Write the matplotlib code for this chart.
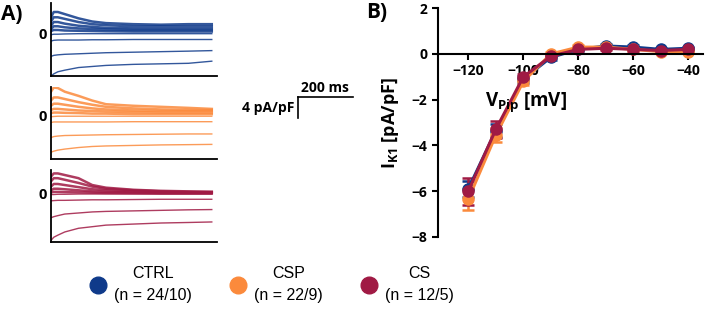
import numpy as np
import matplotlib.pyplot as plt
from matplotlib.lines import Line2D

# colores de cada grupo
c_ctrl = '#0f3a8a'
c_csp = '#fb8a3c'
c_cs = '#a01a44'

# ---------------- panel A: registros representativos ----------------
t_ms = [0, 10, 25, 50, 100, 150, 200, 300, 400, 500, 585]
# una fila por pulso (-120 ... -40 mV), valores en pA/pF
ctrl_traces = [
    [-8.1, -7.7, -7.3, -7.0, -6.5, -6.3, -6.1, -5.9, -5.8, -5.7, -5.3],
    [-4.4, -4.2, -4.1, -4.0, -3.9, -3.8, -3.7, -3.6, -3.5, -3.4, -3.3],
    [-1.5, -1.35, -1.3, -1.3, -1.3, -1.25, -1.25, -1.2, -1.2, -1.2, -1.2],
    [-0.3, -0.2, -0.2, -0.15, -0.1, -0.1, -0.1, -0.1, -0.1, -0.1, -0.1],
    [0.4, 0.6, 0.6, 0.5, 0.45, 0.4, 0.35, 0.3, 0.3, 0.3, 0.3],
    [0.8, 1.3, 1.3, 1.1, 0.9, 0.8, 0.7, 0.6, 0.6, 0.6, 0.6],
    [1.4, 2.1, 2.1, 1.8, 1.4, 1.2, 1.0, 0.9, 0.9, 0.9, 0.9],
    [2.2, 3.0, 3.0, 2.7, 2.1, 1.7, 1.5, 1.3, 1.3, 1.3, 1.3],
    [3.0, 4.0, 4.0, 3.6, 2.8, 2.2, 1.9, 1.7, 1.6, 1.7, 1.7],
]
csp_traces = [
    [-7.1, -6.9, -6.7, -6.5, -6.2, -6.0, -5.9, -5.8, -5.7, -5.65, -5.6],
    [-4.3, -4.1, -4.0, -3.9, -3.85, -3.8, -3.75, -3.7, -3.65, -3.6, -3.6],
    [-1.4, -1.3, -1.3, -1.3, -1.3, -1.3, -1.3, -1.25, -1.25, -1.25, -1.25],
    [-0.3, -0.25, -0.2, -0.2, -0.2, -0.2, -0.2, -0.2, -0.2, -0.2, -0.2],
    [0.4, 0.5, 0.5, 0.45, 0.4, 0.3, 0.3, 0.2, 0.2, 0.2, 0.2],
    [1.0, 1.2, 1.2, 1.1, 0.9, 0.8, 0.7, 0.6, 0.5, 0.5, 0.5],
    [1.8, 2.2, 2.2, 2.0, 1.6, 1.3, 1.1, 0.9, 0.8, 0.8, 0.8],
    [2.8, 3.4, 3.4, 3.1, 2.5, 2.0, 1.6, 1.3, 1.1, 1.0, 1.0],
    [4.5, 5.3, 5.2, 4.5, 3.7, 2.8, 2.1, 1.8, 1.6, 1.4, 1.2],
]
cs_traces = [
    [-8.9, -8.3, -7.9, -7.3, -6.6, -6.3, -6.0, -5.8, -5.6, -5.5, -5.4],
    [-4.6, -4.4, -4.2, -3.9, -3.7, -3.5, -3.4, -3.3, -3.2, -3.1, -3.05],
    [-1.4, -1.35, -1.3, -1.3, -1.25, -1.2, -1.2, -1.15, -1.1, -1.1, -1.1],
    [-0.2, -0.2, -0.15, -0.15, -0.1, -0.1, -0.1, -0.1, -0.1, -0.1, -0.1],
    [0.2, 0.3, 0.3, 0.25, 0.2, 0.15, 0.1, 0.05, 0.0, 0.0, 0.0],
    [0.6, 0.9, 0.9, 0.8, 0.6, 0.4, 0.3, 0.2, 0.1, 0.1, 0.1],
    [1.3, 1.8, 1.8, 1.6, 1.2, 0.8, 0.6, 0.4, 0.3, 0.2, 0.2],
    [2.3, 2.9, 2.9, 2.6, 2.0, 1.3, 0.9, 0.6, 0.4, 0.3, 0.3],
    [3.2, 3.8, 3.8, 3.5, 2.9, 1.6, 1.1, 0.7, 0.5, 0.4, 0.3],
]

# ---------------- panel B: curva I-V ----------------
v_mv = [-120, -110, -100, -90, -80, -70, -60, -50, -40]
ctrl_mean = [-5.9, -3.35, -1.1, -0.15, 0.2, 0.35, 0.3, 0.2, 0.25]
ctrl_sem = [0.35, 0.3, 0.15, 0.1, 0.08, 0.08, 0.08, 0.06, 0.06]
csp_mean = [-6.35, -3.55, -1.2, 0.0, 0.3, 0.3, 0.2, 0.1, 0.1]
csp_sem = [0.45, 0.3, 0.15, 0.1, 0.08, 0.08, 0.08, 0.06, 0.06]
cs_mean = [-6.0, -3.3, -1.0, -0.1, 0.2, 0.25, 0.2, 0.15, 0.2]
cs_sem = [0.6, 0.38, 0.12, 0.08, 0.06, 0.06, 0.06, 0.05, 0.05]

labels = ['CTRL\n(n = 24/10)', 'CSP\n(n = 22/9)', 'CS\n(n = 12/5)']

plt.rcParams['font.family'] = ['Open Sans', 'DejaVu Sans']
plt.rcParams['mathtext.fontset'] = 'custom'
plt.rcParams['mathtext.rm'] = 'Open Sans'
plt.rcParams['mathtext.bf'] = 'Open Sans:bold'

fig = plt.figure(figsize=(7.07, 3.11), dpi=100)

W, H = 707.0, 311.0
def caja(x0, y0, x1, y1):
    # pixeles -> fraccion de figura
    return [x0 / W, 1 - y1 / H, (x1 - x0) / W, (y1 - y0) / H]

paneles = [
    (ctrl_traces, c_ctrl, caja(51, 3, 217, 76), (-8.1, 5.7)),
    (csp_traces, c_csp, caja(51, 87, 217, 159), (-8.4, 5.4)),
    (cs_traces, c_cs, caja(51, 170, 217, 242), (-9.2, 4.45)),
]
ejes_a = []
for trazas, col, pos, lim in paneles:
    ax = fig.add_axes(pos)
    for i, tr in enumerate(trazas):
        lw = 1.0 if i < 4 else 1.8
        ax.plot(t_ms, tr, color=col, lw=lw, alpha=0.85)
    ax.set_xlim(0, 604)
    ax.set_ylim(*lim)
    ax.spines['top'].set_visible(False)
    ax.spines['right'].set_visible(False)
    ax.spines['left'].set_linewidth(1.3)
    ax.spines['bottom'].set_linewidth(1.3)
    ax.set_xticks([])
    ax.set_yticks([0])
    ax.set_yticklabels(['0'], fontsize=10.5, fontweight='bold')
    ax.tick_params(axis='y', length=0, pad=3)
    ejes_a.append(ax)

# barra de escala (200 ms, 4 pA/pF) en el panel del medio
axm = ejes_a[1]
y_sb = 3.4
axm.plot([898, 1098], [y_sb, y_sb], color='k', lw=1.2, clip_on=False)
axm.plot([898, 898], [y_sb, y_sb - 4], color='k', lw=1.2, clip_on=False)
axm.text(998, y_sb + 0.5, '200 ms', ha='center', va='bottom', fontsize=10,
         fontweight='bold', clip_on=False)
axm.text(885, y_sb - 2.0, '4 pA/pF', ha='right', va='center', fontsize=10,
         fontweight='bold', clip_on=False)

fig.text(12 / W, 1 - 15 / H, 'A)', fontsize=15, fontweight='bold',
         ha='center', va='center')
fig.text(377 / W, 1 - 13 / H, 'B)', fontsize=15, fontweight='bold',
         ha='center', va='center')

# panel B
axb = fig.add_axes(caja(438, 8.2, 703, 237))
for m, s, col in [(ctrl_mean, ctrl_sem, c_ctrl), (csp_mean, csp_sem, c_csp),
                  (cs_mean, cs_sem, c_cs)]:
    axb.errorbar(v_mv, m, yerr=s, color=col, lw=2.2, marker='o', ms=8,
                 capsize=4, capthick=1.8, elinewidth=1.8)
axb.set_xlim(-131, -34.7)
axb.set_ylim(-8, 2)
axb.spines['top'].set_visible(False)
axb.spines['right'].set_visible(False)
axb.spines['bottom'].set_position(('data', 0))
axb.spines['left'].set_linewidth(1.5)
axb.spines['bottom'].set_linewidth(1.5)
axb.set_xticks([-120, -100, -80, -60, -40])
axb.set_yticks([-8, -6, -4, -2, 0, 2])
axb.tick_params(width=1.5, length=4, labelsize=10)
for lab in axb.get_xticklabels() + axb.get_yticklabels():
    lab.set_fontweight('bold')
axb.set_ylabel(r'$\mathbf{I_{K1}}$ [pA/pF]', fontsize=13, fontweight='bold')
axb.yaxis.set_label_coords(-0.14, 0.5)
axb.text(-99, -2.1, r'$\mathbf{V_{Pip}}$ [mV]', fontsize=13.5,
         fontweight='bold', ha='center', va='center')

# leyenda
handles = [Line2D([], [], ls='', marker='o', ms=12, color=c)
           for c in (c_ctrl, c_csp, c_cs)]
leg = fig.legend(handles, labels, ncol=3, loc='center',
                 bbox_to_anchor=(0.385, 0.085), frameon=False,
                 prop={'family': 'Liberation Sans', 'size': 11.5},
                 handletextpad=0.5, columnspacing=2.4, handlelength=1.0)
for txt in leg.get_texts():
    txt.set_multialignment('center')
    txt.set_linespacing(1.6)

fig.savefig('out.png', dpi=100)
